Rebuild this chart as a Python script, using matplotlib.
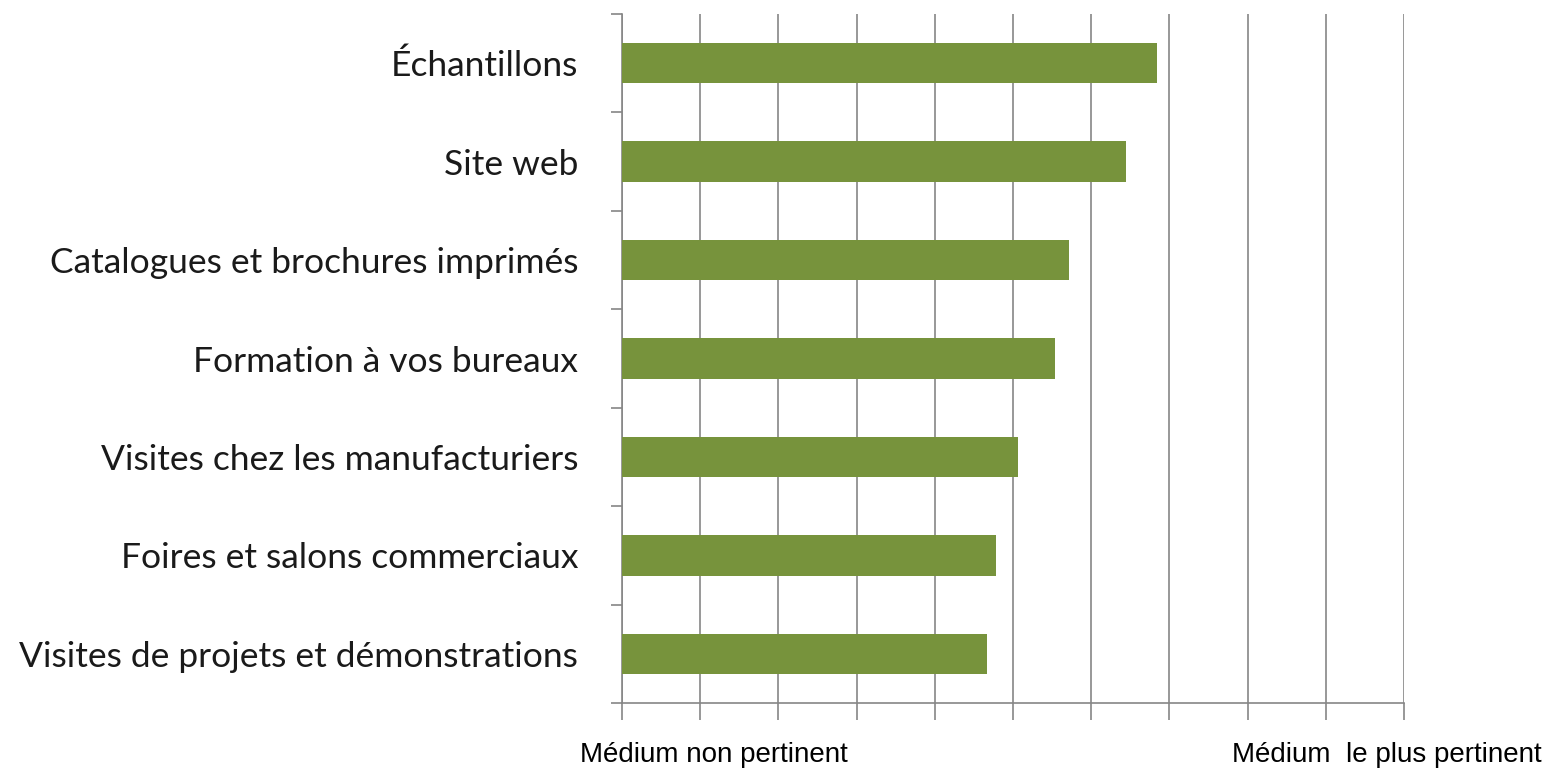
import numpy as np
import matplotlib.pyplot as plt

categories = [
    "Visites de projets et démonstrations",
    "Foires et salons commerciaux",
    "Visites chez les manufacturiers",
    "Formation à vos bureaux",
    "Catalogues et brochures imprimés",
    "Site web",
    "Échantillons",
]
scores = [4.67, 4.78, 5.06, 5.54, 5.71, 6.44, 6.84]

label_left = "Médium non pertinent"
label_right = "Médium  le plus pertinent"

green = "#77933C"
grey = "#868686"

fig = plt.figure(figsize=(15.52, 7.69), dpi=100)
ax = fig.add_axes([0.4008, 0.0858, 0.9046 - 0.4008, 0.9818 - 0.0858])

y = np.arange(len(categories))
ax.barh(y, scores, height=0.41, color=green, zorder=3)

ax.set_xlim(0, 10)
ax.set_ylim(-0.5, len(categories) - 0.5)
ax.set_xticks(np.arange(0, 11, 1))
ax.set_xticklabels([])
ax.xaxis.grid(True, color=grey, linewidth=1.2, zorder=0)

ax.set_yticks(y)
ax.set_yticklabels(categories, fontsize=25.5, family=["Lato", "DejaVu Sans"], color="#1a1a1a")
ax.set_yticks(np.arange(-0.5, len(categories), 1), minor=True)
ax.tick_params(axis="y", which="major", length=0, pad=31.5)
ax.tick_params(axis="y", which="minor", length=8, width=1.2, color=grey)
ax.tick_params(axis="x", which="major", length=12, width=1.2, color=grey)

for side in ["top", "right"]:
    ax.spines[side].set_visible(False)
for side in ["left", "bottom"]:
    ax.spines[side].set_color(grey)
    ax.spines[side].set_linewidth(1.2)

fig.text(714 / 1552, 1 - 755 / 769, label_left, ha="center", va="center",
         fontsize=20, family="Liberation Sans")
fig.text(1387 / 1552, 1 - 755 / 769, label_right, ha="center", va="center",
         fontsize=20, family="Liberation Sans")

fig.savefig("out.png", dpi=100)
